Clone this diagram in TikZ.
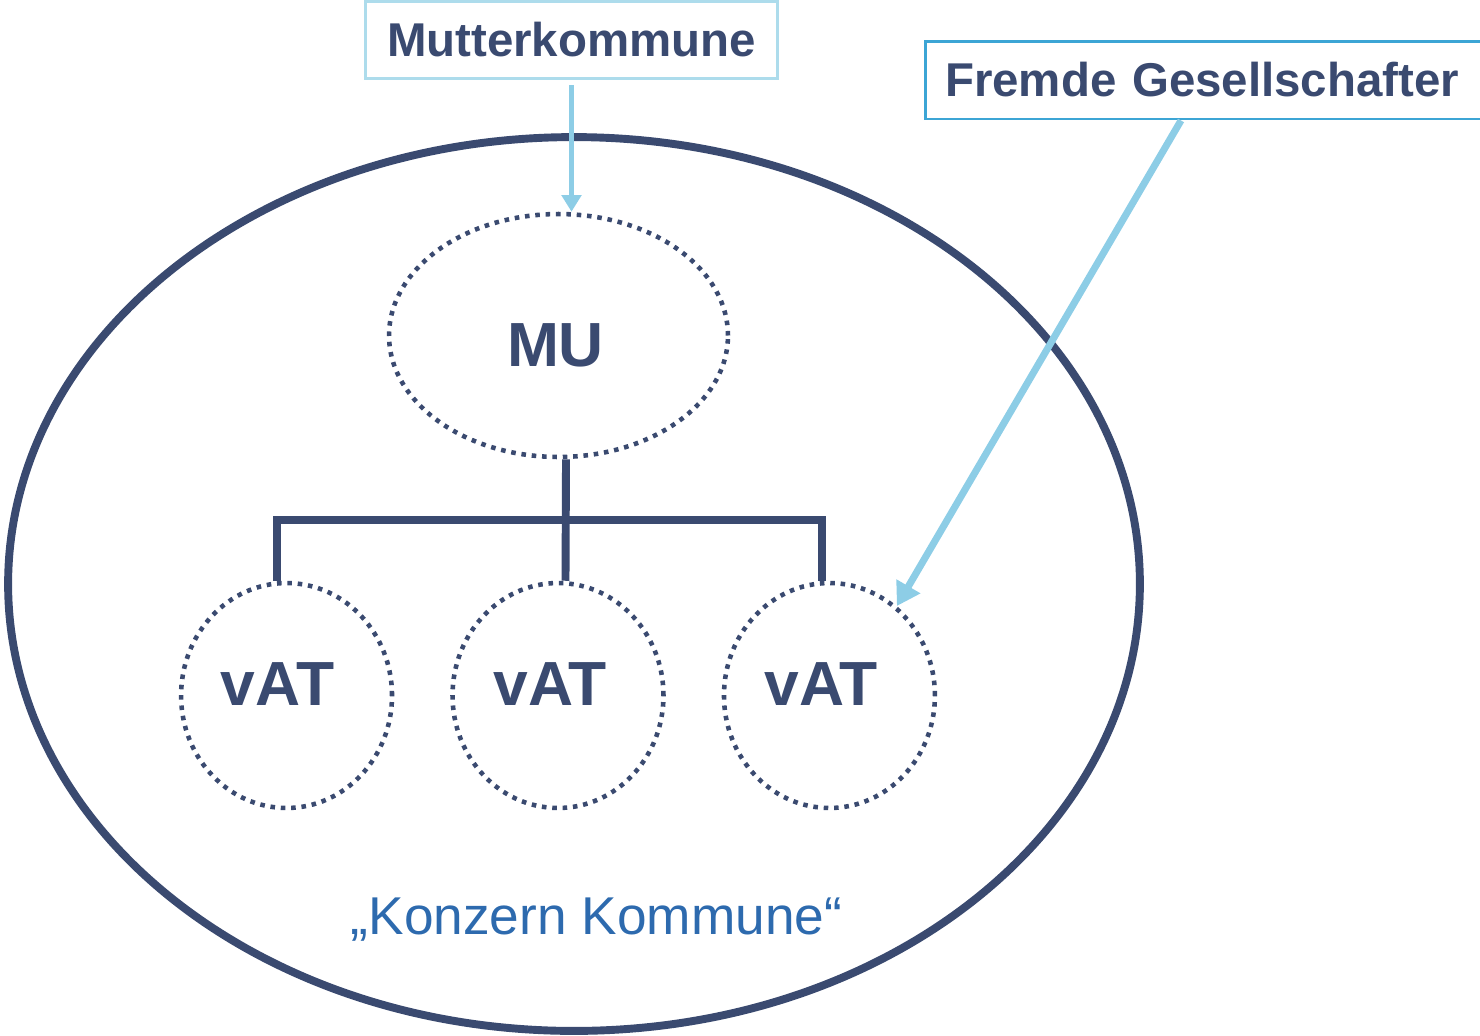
\documentclass[tikz,border=0pt]{standalone}
\usepackage{fontspec}
\setmainfont{Liberation Sans}
\usepackage{tikz}
\usetikzlibrary{positioning}
\usetikzlibrary{arrows.meta}
\usetikzlibrary{shapes.geometric}
\definecolor{navy}{HTML}{3A4A70}
\definecolor{paleblue}{HTML}{ADDCEC}
\definecolor{midblue}{HTML}{3CA5D5}
\definecolor{arrowblue}{HTML}{8DCDE6}
\definecolor{textblue}{HTML}{2D6AAE}
\tikzset {
  node distance={5.43cm},
  % the whole group (Konzern)
  group/.style={draw=navy, line width=4.5pt, ellipse, minimum width=22.64cm, minimum height=17.88cm},
  % dotted units inside the group
  unit/.style={draw=navy, line width=2.6pt, dash pattern=on 2.6pt off 3.3pt, ellipse, inner sep=0pt},
  top/.style={unit, minimum width=6.78cm, minimum height=4.86cm},
  sub/.style={unit, minimum width=4.22cm, minimum height=4.5cm},
  unittext/.style={text=navy, font=\fontsize{35.5}{40}\selectfont\bfseries},
  % boxes for the owners
  owner/.style={fill=white, text=navy, font=\fontsize{27}{32}\selectfont\bfseries, inner sep=0pt},
  % tree lines and arrows
  tree/.style={navy, line width=4.5pt},
  thinarrow/.style={arrowblue, line width=3pt, -{Triangle[length=9.5pt,width=11pt]}},
  thickarrow/.style={arrowblue, line width=4pt, -{Triangle[length=13pt,width=15pt]}},
}

\begin{document}
\begin{tikzpicture}[x=0.02cm, y=-0.02cm]
  \useasboundingbox (0,0) rectangle (1480,1035);
  \clip (0,0) rectangle (1480,1035);

  \node[group] (konzern) at (574,584) {};
  \node[top, label={[unittext, shift={(-3,10)}]center:MU}] (mu) at (558.5,335.5) {};
  \node[sub, label={[unittext, shift={(-8,-11)}]center:vAT}] (v2) at (558,695.5) {};
  \node[sub, left of=v2, label={[unittext, shift={(-9,-11)}]center:vAT}] (v1) {};
  \node[sub, right of=v2, label={[unittext, shift={(-8,-11)}]center:vAT}] (v3) {};

  \node[owner, draw=paleblue, line width=1.7pt, minimum width=8.26cm, minimum height=1.54cm] (mutter) at (571.5,40) {Mutterkommune};
  \node[owner, draw=midblue, line width=1.7pt, minimum width=11.4cm, minimum height=1.56cm, text width=10.6cm] (fremde) at (1210,80) {Fremde Gesellschafter};

  \node[textblue, font=\fontsize{30.3}{36}\selectfont] (name) at (596.5,920) {„Konzern Kommune“};

  \coordinate (fork) at (566,520);
  \draw[tree] ([shift={(7.5,0)}]mu.south) -- ([shift={(7.5,0)}]v2.north);
  \draw[tree] ([shift={(-9.5,0)}]v1.north) |- (fork) -| ([shift={(-7.5,0)}]v3.north);

  \draw[thinarrow, shorten <=3pt] (mutter.south) -- (mutter.south |- mu.north);
  \draw[thickarrow] ([shift={(-29,0)}]fremde.south) -- (v3.53);
\end{tikzpicture}
\end{document}
